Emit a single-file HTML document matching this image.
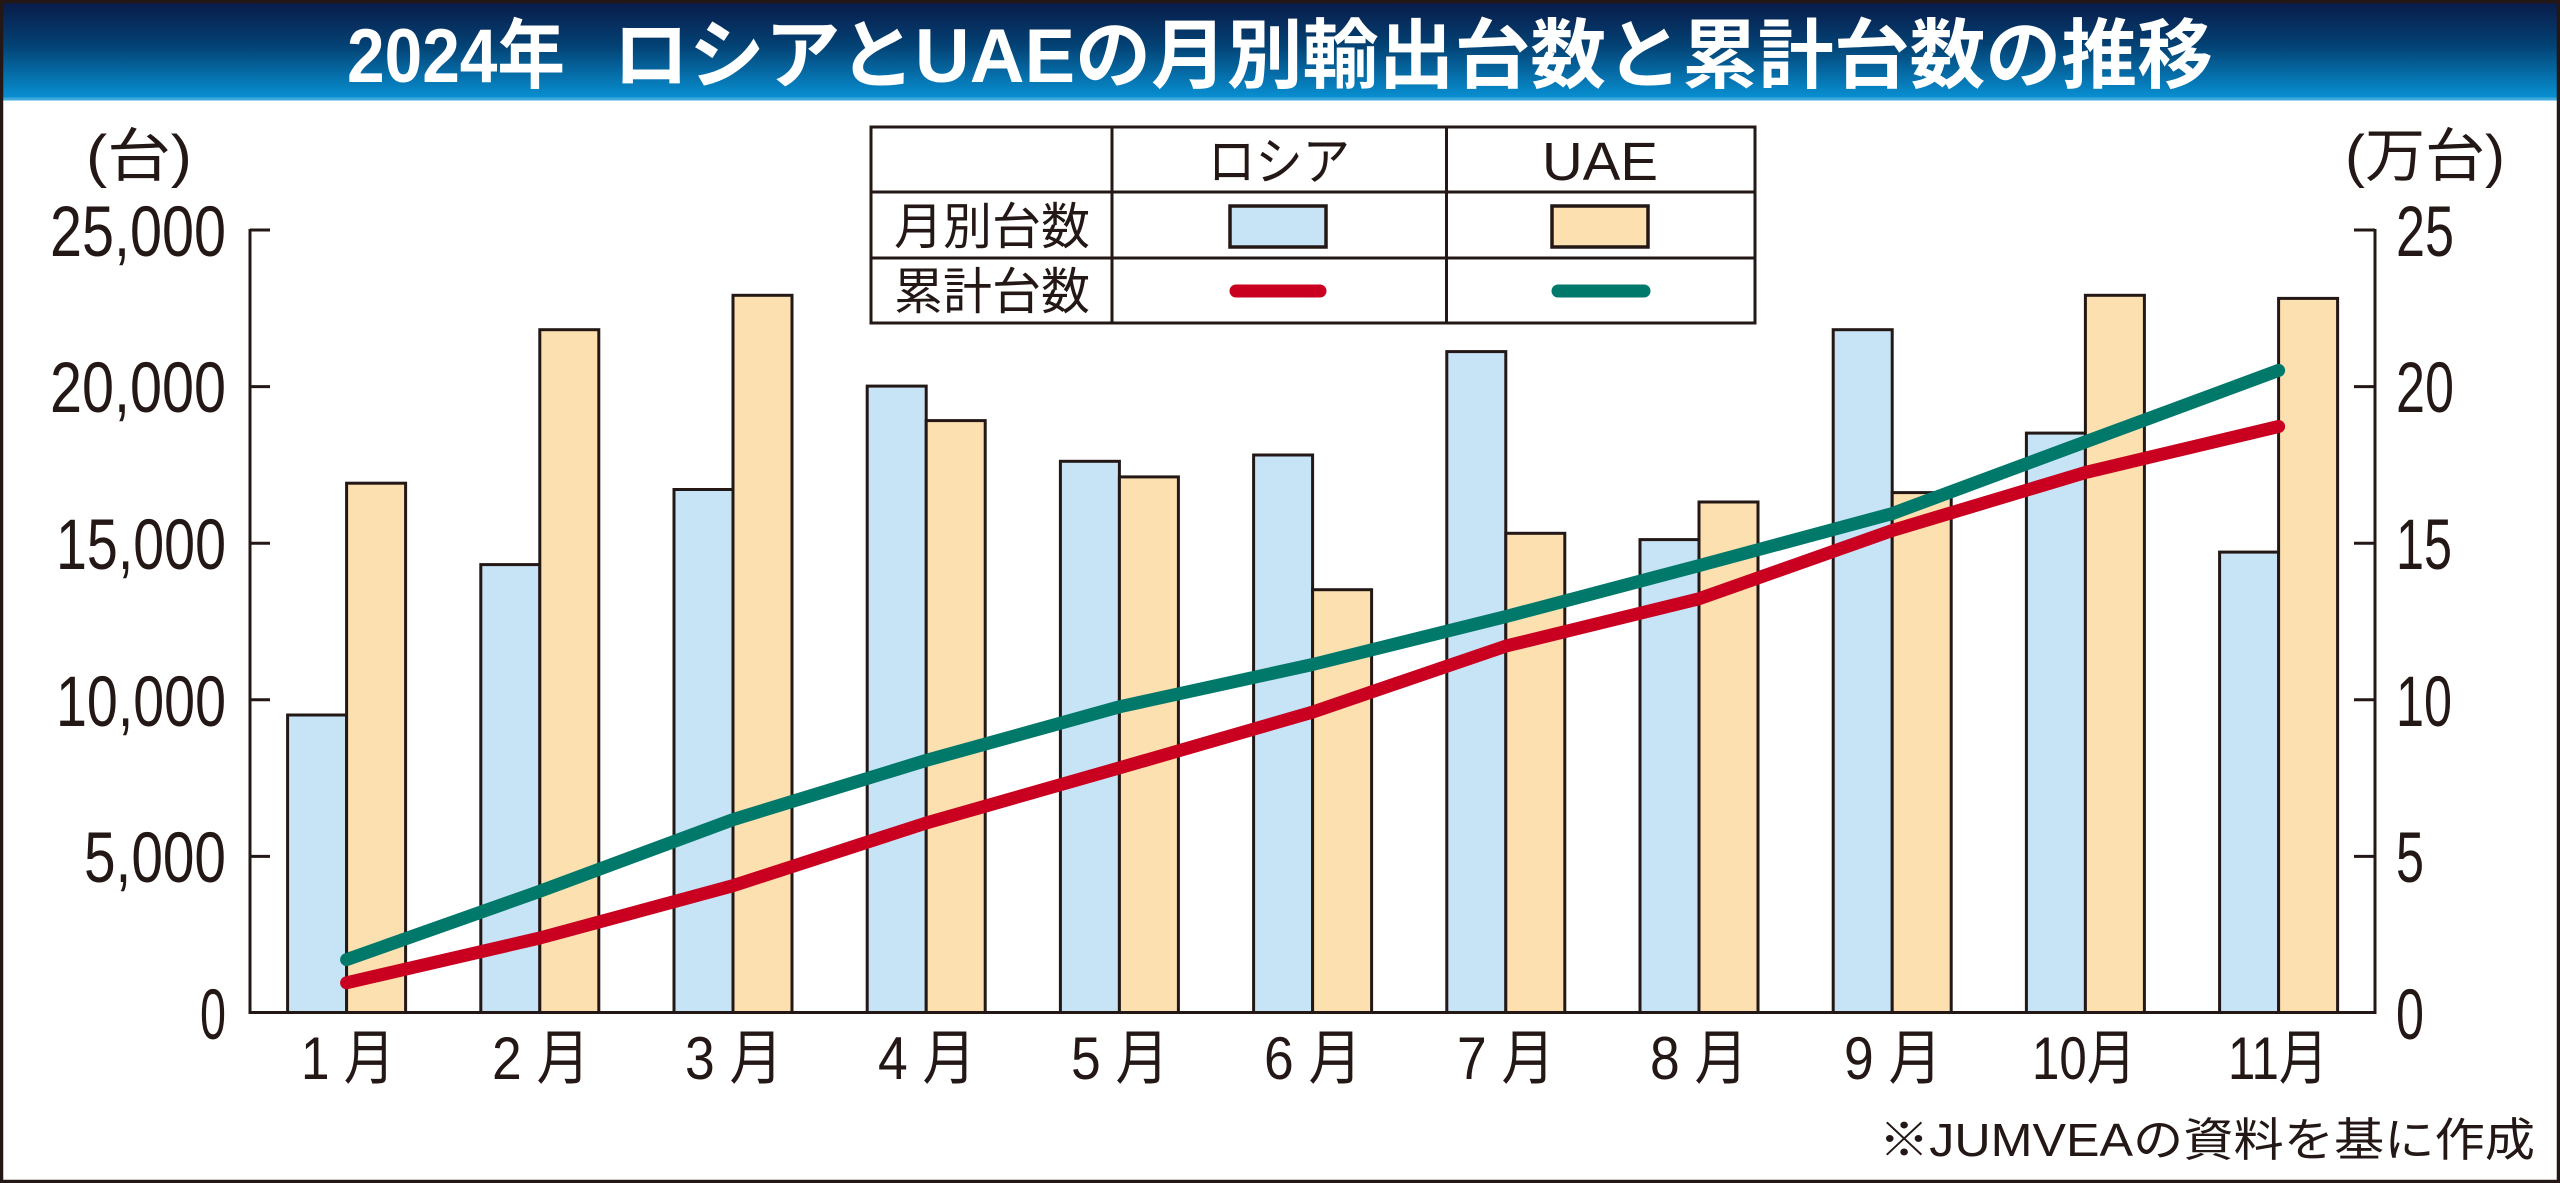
<!DOCTYPE html>
<html><head><meta charset="utf-8"><style>
html,body{margin:0;padding:0;background:#fff;}
svg{display:block;}
text{font-family:"Liberation Sans","Noto Sans CJK JP",sans-serif;fill:#231815;}
</style></head><body>
<svg width="2560" height="1183" viewBox="0 0 2560 1183" xmlns="http://www.w3.org/2000/svg">
<defs>
<linearGradient id="tg" x1="0" y1="0" x2="0" y2="1">
<stop offset="0" stop-color="#0a1947"/>
<stop offset="0.45" stop-color="#034173"/>
<stop offset="1" stop-color="#0893d6"/>
</linearGradient>
</defs>
<rect x="0" y="0" width="2560" height="100" fill="url(#tg)"/>
<rect x="0" y="100" width="2560" height="1083" fill="#fff"/>
<line x1="0" y1="99" x2="2560" y2="99" stroke="#3fa9dc" stroke-width="3"/>
<text x="347" y="82" font-size="76" font-weight="bold" textLength="218" lengthAdjust="spacingAndGlyphs" style="fill:#fff">2024年</text>
<text x="613" y="82" font-size="76" font-weight="bold" textLength="1600" lengthAdjust="spacingAndGlyphs" style="fill:#fff">ロシアとUAEの月別輸出台数と累計台数の推移</text>

<!-- axes -->
<g stroke="#231815" stroke-width="3" fill="none">
<line x1="250" y1="229" x2="250" y2="1013"/>
<line x1="2375" y1="229" x2="2375" y2="1013"/>
<line x1="248.5" y1="1012.5" x2="2376.5" y2="1012.5"/>
<line x1="250" y1="230" x2="270" y2="230"/>
<line x1="250" y1="386.6" x2="270" y2="386.6"/>
<line x1="250" y1="543.2" x2="270" y2="543.2"/>
<line x1="250" y1="699.8" x2="270" y2="699.8"/>
<line x1="250" y1="856.4" x2="270" y2="856.4"/>
<line x1="2354" y1="230" x2="2375" y2="230"/>
<line x1="2354" y1="386.6" x2="2375" y2="386.6"/>
<line x1="2354" y1="543.2" x2="2375" y2="543.2"/>
<line x1="2354" y1="699.8" x2="2375" y2="699.8"/>
<line x1="2354" y1="856.4" x2="2375" y2="856.4"/>
</g>

<!-- left tick labels -->
<g font-size="71" text-anchor="end">
<text x="226" y="256" textLength="176" lengthAdjust="spacingAndGlyphs">25,000</text>
<text x="226" y="412" textLength="176" lengthAdjust="spacingAndGlyphs">20,000</text>
<text x="226" y="569" textLength="170" lengthAdjust="spacingAndGlyphs">15,000</text>
<text x="226" y="726" textLength="170" lengthAdjust="spacingAndGlyphs">10,000</text>
<text x="226" y="882" textLength="142" lengthAdjust="spacingAndGlyphs">5,000</text>
<text x="226" y="1039" textLength="26" lengthAdjust="spacingAndGlyphs">0</text>
</g>
<!-- right tick labels -->
<g font-size="71">
<text x="2396" y="256" textLength="58" lengthAdjust="spacingAndGlyphs">25</text>
<text x="2396" y="412" textLength="58" lengthAdjust="spacingAndGlyphs">20</text>
<text x="2396" y="569" textLength="56" lengthAdjust="spacingAndGlyphs">15</text>
<text x="2396" y="726" textLength="56" lengthAdjust="spacingAndGlyphs">10</text>
<text x="2396" y="882" textLength="28" lengthAdjust="spacingAndGlyphs">5</text>
<text x="2396" y="1039" textLength="28" lengthAdjust="spacingAndGlyphs">0</text>
</g>
<text x="86" y="176" font-size="58" textLength="106" lengthAdjust="spacingAndGlyphs">(台)</text>
<text x="2345" y="176" font-size="58" textLength="160" lengthAdjust="spacingAndGlyphs">(万台)</text>

<!-- bars -->
<g stroke="#231815" stroke-width="3">
<g fill="#c7e3f6">
<rect x="287.6" y="715.0" width="59" height="297.5"/>
<rect x="480.8" y="564.6" width="59" height="447.9"/>
<rect x="674.0" y="489.5" width="59" height="523.0"/>
<rect x="867.2" y="386.1" width="59" height="626.4"/>
<rect x="1060.4" y="461.3" width="59" height="551.2"/>
<rect x="1253.6" y="455.0" width="59" height="557.5"/>
<rect x="1446.8" y="351.6" width="59" height="660.9"/>
<rect x="1640.0" y="539.6" width="59" height="472.9"/>
<rect x="1833.2" y="329.7" width="59" height="682.8"/>
<rect x="2026.4" y="433.1" width="59" height="579.4"/>
<rect x="2219.6" y="552.1" width="59" height="460.4"/>
</g>
<g fill="#fde0b0">
<rect x="346.6" y="483.2" width="59" height="529.3"/>
<rect x="539.8" y="329.7" width="59" height="682.8"/>
<rect x="733.0" y="295.3" width="59" height="717.2"/>
<rect x="926.2" y="420.6" width="59" height="591.9"/>
<rect x="1119.4" y="476.9" width="59" height="535.6"/>
<rect x="1312.6" y="589.7" width="59" height="422.8"/>
<rect x="1505.8" y="533.3" width="59" height="479.2"/>
<rect x="1699.0" y="502.0" width="59" height="510.5"/>
<rect x="1892.2" y="492.6" width="59" height="519.9"/>
<rect x="2085.4" y="295.3" width="59" height="717.2"/>
<rect x="2278.6" y="298.4" width="59" height="714.1"/>
</g>
</g>

<!-- lines -->
<polyline fill="none" stroke="#c9001f" stroke-width="13" stroke-linecap="round" stroke-linejoin="round"
 points="346.6,982.8 539.8,938.0 733.0,885.7 926.2,823.0 1119.4,767.9 1312.6,712.1 1505.8,646.1 1699.0,598.8 1892.2,530.5 2085.4,472.5 2278.6,426.5"/>
<polyline fill="none" stroke="#00796b" stroke-width="13" stroke-linecap="round" stroke-linejoin="round"
 points="346.6,959.6 539.8,891.3 733.0,819.6 926.2,760.4 1119.4,706.8 1312.6,664.5 1505.8,616.6 1699.0,565.6 1892.2,513.6 2085.4,441.9 2278.6,370.4"/>

<!-- month labels -->
<g font-size="60" text-anchor="middle">
<text x="348" y="1079" textLength="94" lengthAdjust="spacingAndGlyphs">1 月</text>
<text x="541" y="1079" textLength="98" lengthAdjust="spacingAndGlyphs">2 月</text>
<text x="734" y="1079" textLength="98" lengthAdjust="spacingAndGlyphs">3 月</text>
<text x="927" y="1079" textLength="98" lengthAdjust="spacingAndGlyphs">4 月</text>
<text x="1120" y="1079" textLength="98" lengthAdjust="spacingAndGlyphs">5 月</text>
<text x="1313" y="1079" textLength="98" lengthAdjust="spacingAndGlyphs">6 月</text>
<text x="1506" y="1079" textLength="98" lengthAdjust="spacingAndGlyphs">7 月</text>
<text x="1699" y="1079" textLength="98" lengthAdjust="spacingAndGlyphs">8 月</text>
<text x="1893" y="1079" textLength="98" lengthAdjust="spacingAndGlyphs">9 月</text>
<text x="2084" y="1079" textLength="104" lengthAdjust="spacingAndGlyphs">10月</text>
<text x="2278" y="1079" textLength="100" lengthAdjust="spacingAndGlyphs">11月</text>
</g>

<text x="2535" y="1156" font-size="46" text-anchor="end" textLength="656" lengthAdjust="spacingAndGlyphs">※JUMVEAの資料を基に作成</text>

<!-- legend table -->
<rect x="871" y="127" width="884" height="196" fill="#fff" stroke="#231815" stroke-width="3"/>
<g stroke="#231815" stroke-width="3">
<line x1="871" y1="192" x2="1755" y2="192"/>
<line x1="871" y1="258" x2="1755" y2="258"/>
<line x1="1112" y1="127" x2="1112" y2="323"/>
<line x1="1446.5" y1="127" x2="1446.5" y2="323"/>
</g>
<text x="1279" y="180" font-size="52" text-anchor="middle" textLength="142" lengthAdjust="spacingAndGlyphs">ロシア</text>
<text x="1600" y="180" font-size="54" text-anchor="middle" textLength="116" lengthAdjust="spacingAndGlyphs">UAE</text>
<text x="992" y="244" font-size="50" text-anchor="middle" textLength="196" lengthAdjust="spacingAndGlyphs">月別台数</text>
<text x="992" y="309" font-size="50" text-anchor="middle" textLength="196" lengthAdjust="spacingAndGlyphs">累計台数</text>
<rect x="1230" y="206" width="96" height="41" fill="#c7e3f6" stroke="#231815" stroke-width="3.5"/>
<rect x="1552" y="206" width="96" height="41" fill="#fde0b0" stroke="#231815" stroke-width="3.5"/>
<line x1="1236" y1="291" x2="1320" y2="291" stroke="#c9001f" stroke-width="13" stroke-linecap="round"/>
<line x1="1558" y1="291" x2="1644" y2="291" stroke="#00796b" stroke-width="13" stroke-linecap="round"/>

<!-- outer border -->
<rect x="1.5" y="1.5" width="2557" height="1180" fill="none" stroke="#231815" stroke-width="3.5"/>
</svg>
</body></html>
